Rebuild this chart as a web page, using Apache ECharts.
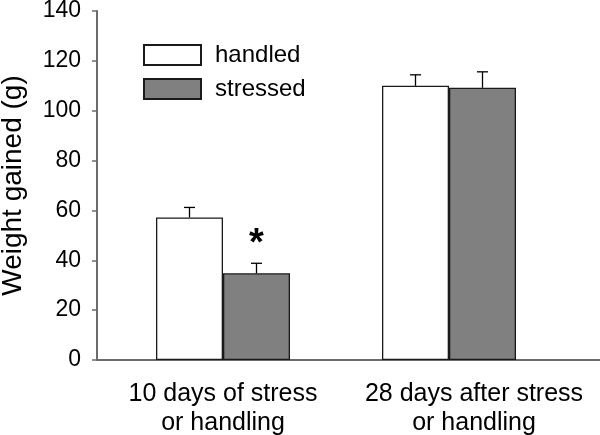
<!DOCTYPE html>
<html>
<head>
<meta charset="utf-8">
<script src="https://cdn.jsdelivr.net/npm/echarts@6/dist/echarts.min.js"></script>
<style>html,body{margin:0;padding:0;background:#fff;}#c{width:600px;height:435px;}</style>
</head>
<body>
<div id="c"></div>
<script>
const categories = ['10 days of stress\nor handling', '28 days after stress\nor handling'];
const seriesNames = ['handled', 'stressed'];
const handled = [57.2, 110.0];
const stressed = [34.8, 109.2];
const handledErr = [4.0, 4.4];
const stressedErr = [4.0, 6.4];
const significance = ['*', ''];
const yTicks = [0, 20, 40, 60, 80, 100, 120, 140];

const FONT = 'Liberation Sans, Arial, Helvetica, sans-serif';
const BAR_W = 67;

function errSeries(vals, errs, offsetSign) {
  return {
    type: 'custom',
    xAxisIndex: 0, yAxisIndex: 0,
    silent: true,
    z: 5,
    data: vals.map((v, i) => [i, v, errs[i]]),
    renderItem: function (params, api) {
      const idx = api.value(0);
      const base = api.coord([idx, api.value(1)]);
      const top = api.coord([idx, api.value(1) + api.value(2)]);
      const x = base[0] + offsetSign * BAR_W / 2;
      const capHalf = 5.5;
      return {
        type: 'group',
        children: [
          { type: 'line', shape: { x1: x, y1: base[1], x2: x, y2: top[1] }, style: { stroke: '#000', lineWidth: 1.3 } },
          { type: 'line', shape: { x1: x - capHalf, y1: top[1], x2: x + capHalf, y2: top[1] }, style: { stroke: '#000', lineWidth: 1.3 } }
        ]
      };
    }
  };
}

const chart = echarts.init(document.getElementById('c'), null, { renderer: 'canvas' });
chart.setOption({
  animation: false,
  backgroundColor: '#fff',
  textStyle: { fontFamily: FONT },
  grid: [
    { left: 110, right: 38, top: 11, bottom: 75, outerBoundsMode: 'none', containLabel: false },
    { left: 97, right: 0, top: 11, bottom: 75, outerBoundsMode: 'none', containLabel: false }
  ],
  legend: {
    orient: 'vertical',
    left: 143, top: 43, padding: 0,
    itemWidth: 57, itemHeight: 20, itemGap: 10,
    icon: 'rect',
    textStyle: { fontSize: 24, color: '#000', fontFamily: FONT, padding: [0, 0, 0, 9] },
    data: seriesNames
  },
  xAxis: [
    {
      type: 'category', gridIndex: 0,
      data: categories.map((c, i) => i === 1 ? { value: c, textStyle: { padding: [0, 0, 0, 50] } } : c),
      axisLine: { show: false }, axisTick: { show: false },
      axisLabel: { interval: 0, fontSize: 25, color: '#000', margin: 20, lineHeight: 29, fontFamily: FONT, hideOverlap: false }
    },
    {
      type: 'value', gridIndex: 1, min: 0, max: 1,
      axisLine: { show: true, onZero: false, lineStyle: { color: '#6b6b6b', width: 2 } },
      axisTick: { show: false }, axisLabel: { show: false }, splitLine: { show: false }
    }
  ],
  yAxis: [
    { type: 'value', gridIndex: 0, min: 0, max: 140, interval: 20, show: false },
    {
      type: 'value', gridIndex: 1, min: yTicks[0], max: yTicks[yTicks.length - 1], interval: 20,
      name: 'Weight gained (g)', nameLocation: 'middle', nameGap: 70, nameRotate: 90,
      nameTextStyle: { fontSize: 28, color: '#000', fontFamily: FONT },
      axisLine: { show: true, lineStyle: { color: '#6b6b6b', width: 2 } },
      axisTick: { show: true, inside: false, length: 5, lineStyle: { color: '#6b6b6b', width: 1.5 } },
      axisLabel: { fontSize: 23, color: '#000', margin: 16, fontFamily: FONT },
      splitLine: { show: false }
    }
  ],
  series: [
    {
      name: seriesNames[0], type: 'bar', xAxisIndex: 0, yAxisIndex: 0,
      barWidth: BAR_W, barGap: '0%',
      itemStyle: { color: '#ffffff', borderColor: '#1a1a1a', borderWidth: 1.3 },
      data: handled
    },
    {
      name: seriesNames[1], type: 'bar', xAxisIndex: 0, yAxisIndex: 0,
      barWidth: BAR_W, barGap: '0%',
      itemStyle: { color: '#808080', borderColor: '#1a1a1a', borderWidth: 1.3 },
      data: stressed.map((v, i) => ({
        value: v,
        label: {
          show: significance[i] !== '',
          formatter: significance[i],
          position: 'top', distance: 10,
          fontSize: 38, fontWeight: 'bold', color: '#000', fontFamily: FONT
        }
      }))
    },
    errSeries(handled, handledErr, -1),
    errSeries(stressed, stressedErr, 1)
  ]
});
</script>
</body>
</html>
